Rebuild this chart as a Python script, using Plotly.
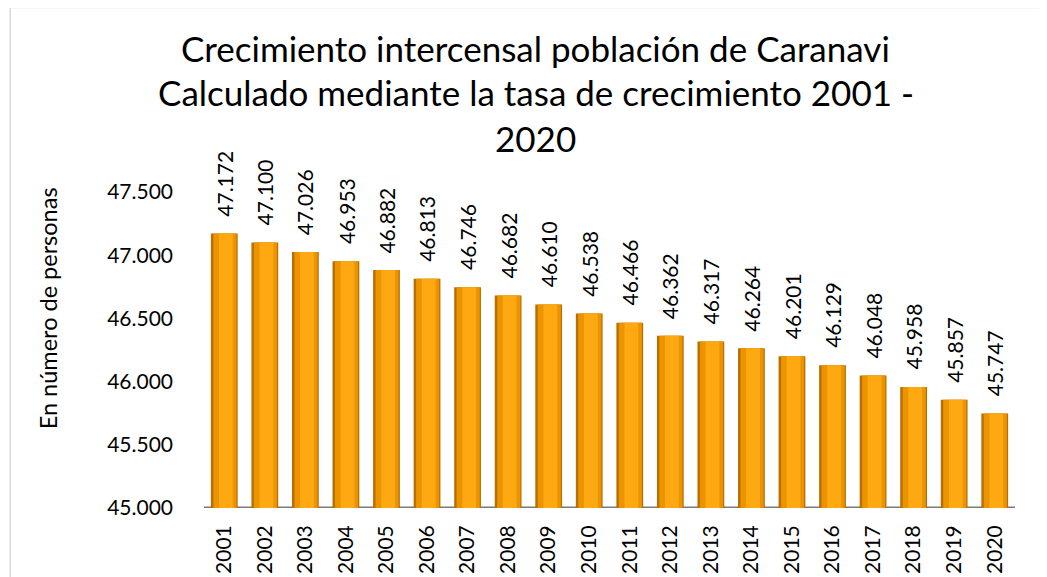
import plotly.graph_objects as go

years = [str(y) for y in range(2001, 2021)]
population = [47172, 47100, 47026, 46953, 46882, 46813, 46746, 46682, 46610, 46538,
              46466, 46362, 46317, 46264, 46201, 46129, 46048, 45958, 45857, 45747]

title_lines = ["Crecimiento intercensal población de Caranavi",
               "Calculado mediante la tasa de crecimiento 2001 -",
               "2020"]
title_y = [1.457, 1.318, 1.172]
y_title = "En número de personas"
y_ticks = [45000, 45500, 46000, 46500, 47000, 47500]

FONT = "Lato"
SZ = 21
fig = go.Figure()

fig.add_trace(go.Bar(
    x=years, y=population, base=0, width=0.66, offset=-0.33,
    marker=dict(color="#B86E00", line=dict(width=0)),
    hoverinfo="skip", showlegend=False))
fig.add_trace(go.Bar(
    x=years, y=population, base=0, width=0.57, offset=-0.27,
    marker=dict(color="#EC9300", line=dict(width=0)),
    hoverinfo="skip", showlegend=False))
fig.add_trace(go.Bar(
    x=years, y=population, base=0, width=0.34, offset=-0.13,
    marker=dict(color="#FFA912", line=dict(width=0)),
    hoverinfo="skip", showlegend=False))

annotations = []
for i, v in enumerate(population):
    annotations.append(dict(
        x=i, y=v, xref="x", yref="y", text=f"{v:,}".replace(",", "."),
        textangle=-90, showarrow=False, xanchor="center", yanchor="bottom",
        yshift=15, font=dict(family=FONT, size=SZ, color="#000000")))
for line, ty in zip(title_lines, title_y):
    annotations.append(dict(
        text=line, x=0.409, xref="paper", y=ty, yref="paper", showarrow=False,
        xanchor="center", yanchor="middle",
        font=dict(family=FONT, size=35, color="#000000")))
annotations.append(dict(
    text=y_title, x=-0.192, xref="paper", y=0.633, yref="paper",
    textangle=-90, showarrow=False, xanchor="center", yanchor="middle",
    font=dict(family=FONT, size=23.5, color="#000000")))

fig.update_layout(
    barmode="overlay",
    width=1047, height=577,
    margin=dict(l=196, r=40, t=184, b=77),
    paper_bgcolor="white", plot_bgcolor="white",
    font=dict(family=FONT, color="#000000"),
    xaxis=dict(type="category", range=[-0.5, 19.5], tickangle=-90, showgrid=False,
               showline=False, zeroline=False, ticks="", ticklabelstandoff=12,
               tickfont=dict(family=FONT, size=SZ)),
    yaxis=dict(range=[45000, 47500], tickvals=y_ticks,
               ticktext=[f"{t:,}".replace(",", ".") for t in y_ticks],
               showgrid=False, showline=False, zeroline=False,
               ticks="", ticklabelstandoff=30, tickfont=dict(family=FONT, size=SZ)),
    annotations=annotations,
    shapes=[
        dict(type="line", xref="x", yref="y", x0=-0.75, x1=19.6, y0=45000, y1=45000,
             line=dict(color="#7A7A7A", width=3), layer="below"),
        dict(type="rect", xref="paper", yref="paper", x0=-0.239, x1=1.08, y0=-0.25, y1=1.584,
             line=dict(color="#D9D9D9", width=1.5)),
    ],
)

fig.write_html("out.html")
